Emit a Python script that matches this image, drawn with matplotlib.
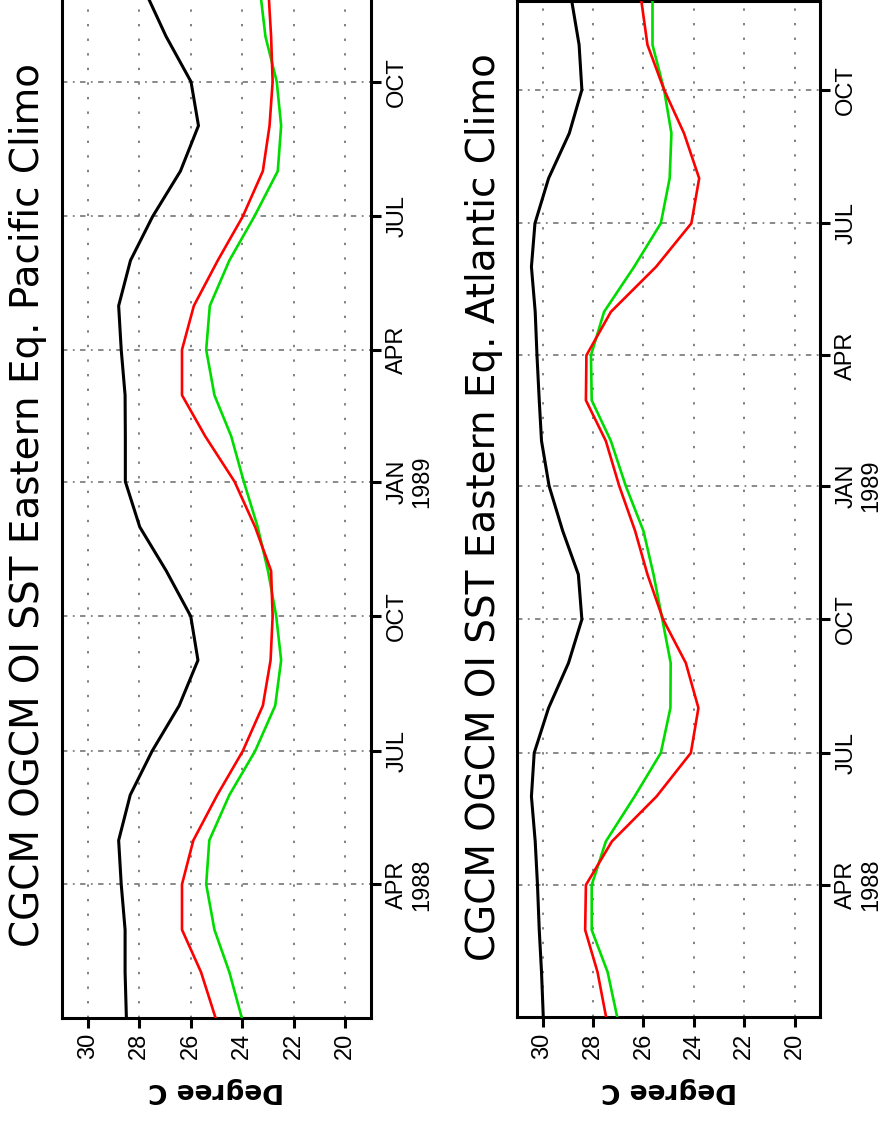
import numpy as np
import pandas as pd
import matplotlib
matplotlib.use("Agg")
import matplotlib.pyplot as plt
from matplotlib import font_manager

# monthly values, Jan 1988 .. Dec 1989
months = pd.date_range("1988-01-01", periods=24, freq="MS")

pac_cgcm = [28.50, 28.55, 28.55, 28.70, 28.80, 28.35, 27.50, 26.45, 25.72, 26.00, 26.95, 27.98,
            28.54, 28.54, 28.55, 28.70, 28.80, 28.34, 27.48, 26.40, 25.70, 25.99, 26.96, 27.75]
pac_ogcm = [25.04, 25.60, 26.34, 26.34, 25.90, 24.97, 23.98, 23.20, 22.90, 22.82, 22.88, 23.50,
            24.30, 25.44, 26.34, 26.34, 25.88, 24.95, 23.98, 23.20, 22.94, 22.82, 22.88, 22.98]
pac_oi = [24.02, 24.50, 25.08, 25.40, 25.28, 24.50, 23.50, 22.72, 22.49, 22.68, 23.00, 23.40,
          23.94, 24.43, 25.08, 25.40, 25.26, 24.50, 23.53, 22.62, 22.49, 22.66, 23.10, 23.30]

atl_cgcm = [29.97, 30.04, 30.13, 30.20, 30.29, 30.44, 30.33, 29.76, 28.97, 28.44, 28.58, 29.20,
            29.74, 30.04, 30.13, 30.22, 30.29, 30.44, 30.30, 29.76, 28.94, 28.44, 28.55, 28.84]
atl_ogcm = [27.48, 27.82, 28.31, 28.28, 27.25, 25.48, 24.12, 23.82, 24.32, 25.22, 25.84, 26.33,
            26.96, 27.49, 28.28, 28.26, 27.29, 25.50, 24.10, 23.79, 24.39, 25.18, 25.84, 26.08]
atl_oi = [27.04, 27.42, 28.05, 28.05, 27.49, 26.35, 25.31, 24.93, 24.92, 25.25, 25.60, 26.00,
          26.70, 27.29, 28.05, 28.08, 27.56, 26.37, 25.31, 24.96, 24.89, 25.18, 25.64, 25.64]

time_ticks = pd.to_datetime(["1988-04-01", "1988-07-01", "1988-10-01", "1989-01-01",
                             "1989-04-01", "1989-07-01", "1989-10-01"])
time_labels = ["APR\n1988", "JUL", "OCT", "JAN\n1989", "APR", "JUL", "OCT"]
temp_ticks = [30, 28, 26, 24, 22, 20]
temp_labels = ["30", "28", "26", "24", "22", "20"]

titles = ["CGCM OGCM OI SST Eastern Eq. Pacific Climo",
          "CGCM OGCM OI SST Eastern Eq. Atlantic Climo"]

installed = {f.name for f in font_manager.fontManager.ttflist}
if "Liberation Sans Narrow" in installed:
    narrow = "Liberation Sans Narrow"
    nsize = 21
else:
    narrow = "Liberation Sans"
    nsize = 17

W, H = 887, 1129
fig = plt.figure(figsize=(W / 100, H / 100), dpi=100)


def px_axes(left, right, top, bottom):
    return fig.add_axes([left / W, 1 - bottom / H, (right - left) / W, (bottom - top) / H])


def panel(ax, cgcm, ogcm, oi):
    ax.plot(cgcm, months, color="black", lw=2.2, zorder=3)
    ax.plot(ogcm, months, color="#ff0000", lw=1.9, zorder=4)
    ax.plot(oi, months, color="#00dc00", lw=1.9, zorder=3)

    ax.set_xlim(31, 19)
    ax.set_ylim(pd.Timestamp("1988-01-01"), pd.Timestamp("1989-12-01"))

    ax.set_xticks(temp_ticks)
    ax.set_xticklabels(temp_labels, rotation=90, fontsize=nsize, family=narrow)
    ax.set_yticks(time_ticks)
    ax.set_yticklabels(time_labels, fontsize=nsize, family=narrow, rotation=90,
                       va="center", multialignment="center", linespacing=1.15)

    ax.tick_params(axis="x", direction="out", length=7, width=2.2, pad=4)
    ax.tick_params(axis="y", left=False, right=True, labelleft=False, labelright=True,
                   direction="out", length=7, width=2.2, pad=4)

    ax.grid(axis="x", color="#808080", lw=1.4, ls=(0, (1.2, 6.3)))
    ax.grid(axis="y", color="#808080", lw=1.3, ls=(0, (3, 3, 1, 3)))
    for sp in ax.spines.values():
        sp.set_linewidth(2.2)

    ax.set_xlabel("Degree C", rotation=180, fontsize=19, fontweight="bold", labelpad=13)


ax1 = px_axes(62, 371, -7.6, 1017.6)
panel(ax1, pac_cgcm, pac_ogcm, pac_oi)
ax2 = px_axes(517.3, 820, 1.3, 1017)
panel(ax2, atl_cgcm, atl_ogcm, atl_oi)

fig.text(28 / W, 1 - 505 / H, titles[0], rotation=90, ha="center", va="center", fontsize=28)
fig.text(484 / W, 1 - 507 / H, titles[1], rotation=90, ha="center", va="center", fontsize=28)

fig.savefig("out.png", dpi=100)
